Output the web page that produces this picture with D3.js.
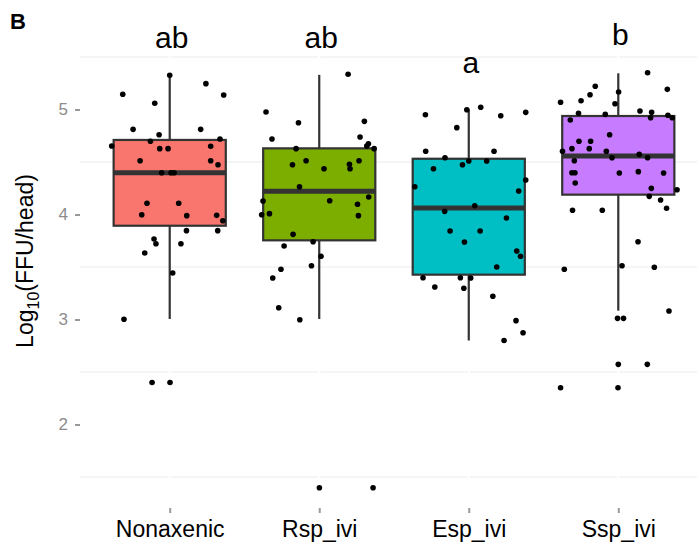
<!DOCTYPE html>
<html>
<head>
<meta charset="utf-8">
<script src="https://cdn.jsdelivr.net/npm/d3@7"></script>
<style>
  body { margin: 0; background: #fff; }
  svg { display: block; font-family: "Liberation Sans", Arial, sans-serif; }
</style>
</head>
<body>
<svg id="chart" width="697" height="542"></svg>
<script>
// data
const groups = ["Nonaxenic", "Rsp_ivi", "Esp_ivi", "Ssp_ivi"];
const colors = ["#F8766D", "#7CAE00", "#00BFC4", "#C77CFF"];
const letters = ["ab", "ab", "a", "b"];
const letterY = [5.586, 5.586, 5.348, 5.614];

// box stats: lower whisker, q1, median, q3, upper whisker
const whiskerLow  = [3.005, 3.005, 2.80, 3.084];
const q1          = [3.893, 3.754, 3.427, 4.189];
const median      = [4.398, 4.221, 4.062, 4.557];
const q3          = [4.710, 4.630, 4.531, 4.938];
const whiskerHigh = [5.326, 5.330, 5.000, 5.345];

const yTicks = [2, 3, 4, 5];
const yMinor = [1.5, 2.5, 3.5, 4.5, 5.5];

// points: [value, jitter in category units]
const ptsNonaxenic = [
  [5.326, 0], [5.246, 0.242], [5.145, -0.314], [5.138, 0.361], [5.059, -0.1],
  [4.811, -0.245], [4.811, 0.207], [4.76, -0.071], [4.697, -0.129], [4.719, 0.336],
  [4.652, -0.388], [4.627, -0.067], [4.627, -0.011], [4.65, 0.274], [4.512, -0.198],
  [4.512, 0.274], [4.474, 0.323], [4.398, -0.054], [4.398, 0.009], [4.398, 0.029],
  [4.107, -0.152], [4.107, 0.060], [3.998, -0.187], [3.989, 0.114], [3.992, 0.314],
  [3.941, 0.355], [3.846, 0.112], [3.846, 0.321], [3.767, -0.105], [3.722, -0.092],
  [3.722, 0.075], [3.633, -0.167], [3.443, 0.020], [3.002, -0.306], [2.40, -0.118],
  [2.40, 0.002]
];
const ptsRsp = [
  [5.335, 0.193], [4.976, -0.356], [4.874, -0.139], [4.887, 0.302], [4.719, -0.316],
  [4.738, 0.273], [4.674, 0.329], [4.652, 0.318], [4.627, 0.367], [4.627, -0.155],
  [4.512, -0.088], [4.474, -0.179], [4.436, 0.032], [4.478, 0.202], [4.436, 0.206],
  [4.512, 0.266], [4.265, -0.132], [4.167, 0.331], [4.129, -0.376], [4.131, 0.070],
  [4.097, 0.256], [3.998, -0.385], [4.008, -0.333], [3.989, 0.262], [3.811, -0.175],
  [3.741, -0.041], [3.70, -0.235], [3.602, 0.012], [3.512, -0.052], [3.478, -0.256],
  [3.395, -0.311], [3.112, -0.271], [2.998, -0.130], [1.398, 0.001], [1.398, 0.360]
];
const ptsEsp = [
  [5.021, 0.080], [4.998, -0.013], [4.973, 0.381], [4.95, -0.290], [4.941, 0.214],
  [4.827, -0.080], [4.602, -0.288], [4.602, 0.169], [4.541, -0.159], [4.51, 0],
  [4.51, 0.120], [4.474, -0.042], [4.436, -0.236], [4.329, 0.381], [4.265, -0.361],
  [4.224, 0.334], [4.084, 0.040], [4.03, -0.161], [3.967, 0.252], [3.843, -0.125],
  [3.843, 0.076], [3.738, -0.029], [3.652, 0.321], [3.602, 0.346], [3.50, 0.187],
  [3.398, -0.306], [3.398, -0.056], [3.395, 0.013], [3.31, -0.227], [3.297, -0.033],
  [3.221, 0.161], [2.989, 0.316], [2.874, 0.363], [2.80, 0.236]
];
const ptsSsp = [
  [5.35, 0.196], [5.221, -0.154], [5.192, 0.328], [5.167, 0.002], [5.141, -0.189],
  [5.084, -0.249], [5.069, -0.386], [5.055, -0.022], [4.986, 0.145], [4.973, 0.223],
  [4.964, -0.266], [4.954, -0.087], [4.945, 0.332], [4.922, 0.361], [4.922, 0.216],
  [4.90, -0.321], [4.76, -0.058], [4.697, -0.263], [4.697, -0.185], [4.627, -0.310],
  [4.627, -0.194], [4.602, -0.373], [4.602, -0.080], [4.573, 0.140], [4.541, -0.042],
  [4.541, 0.196], [4.512, -0.294], [4.398, -0.310], [4.398, -0.290], [4.395, 0.007],
  [4.408, 0.134], [4.395, 0.303], [4.30, -0.288], [4.249, 0.221], [4.236, 0.393],
  [4.173, 0.207], [4.138, 0.283], [4.059, 0.323], [4.04, -0.306], [4.04, -0.107],
  [3.741, 0.132], [3.512, 0.025], [3.497, 0.241], [3.478, -0.361], [3.081, 0.339],
  [3.011, -0.005], [3.011, 0.035], [2.573, 0], [2.573, 0.194], [2.35, -0.386],
  [2.35, -0.002]
];
const points = [ptsNonaxenic, ptsRsp, ptsEsp, ptsSsp];

const svg = d3.select("#chart");
const panel = { left: 80, right: 708, top: 50.7, bottom: 508 };

const x = d3.scalePoint().domain(groups).range([panel.left, panel.right]).padding(0.6);
const step = x.step();
const y = d3.scaleLinear().domain([1.18, 5.56]).range([510.6, 50.7]);
const boxW = step * 0.75;

// grid (minor lines grey, major lines white over them)
svg.append("g").selectAll("line").data(yMinor).join("line")
  .attr("x1", panel.left).attr("x2", panel.right)
  .attr("y1", d => y(d)).attr("y2", d => y(d))
  .attr("stroke", "#ebebeb").attr("stroke-width", 1);
svg.append("g").selectAll("line").data(groups).join("line")
  .attr("x1", d => x(d)).attr("x2", d => x(d))
  .attr("y1", panel.top).attr("y2", panel.bottom)
  .attr("stroke", "#fff").attr("stroke-width", 2);

// axes
const yAxis = svg.append("g")
  .attr("transform", `translate(${panel.left},0)`)
  .call(d3.axisLeft(y).tickValues(yTicks).tickSize(5).tickPadding(7).tickFormat(d3.format("d")));
yAxis.select(".domain").remove();
yAxis.selectAll("line").attr("stroke", "#999").attr("stroke-width", 2);
yAxis.selectAll("text").attr("fill", "#8c8c8c").style("font-size", "17px");

const xAxis = svg.append("g")
  .attr("transform", `translate(0,${panel.bottom})`)
  .call(d3.axisBottom(x).tickSize(5).tickPadding(7.5));
xAxis.select(".domain").remove();
xAxis.selectAll("line").attr("stroke", "#999").attr("stroke-width", 2);
xAxis.selectAll("text").attr("fill", "#000").style("font-size", "23px");

// boxes
const box = svg.append("g").selectAll("g").data(groups).join("g");
box.append("line")
  .attr("x1", d => x(d)).attr("x2", d => x(d))
  .attr("y1", (d, i) => y(whiskerLow[i])).attr("y2", (d, i) => y(whiskerHigh[i]))
  .attr("stroke", "#333").attr("stroke-width", 2.2);
box.append("rect")
  .attr("x", d => x(d) - boxW / 2).attr("width", boxW)
  .attr("y", (d, i) => y(q3[i]))
  .attr("height", (d, i) => y(q1[i]) - y(q3[i]))
  .attr("fill", (d, i) => colors[i])
  .attr("stroke", "#333").attr("stroke-width", 2.2);
box.append("line")
  .attr("x1", d => x(d) - boxW / 2).attr("x2", d => x(d) + boxW / 2)
  .attr("y1", (d, i) => y(median[i])).attr("y2", (d, i) => y(median[i]))
  .attr("stroke", "#333").attr("stroke-width", 5);

// jittered points
groups.forEach((g, i) => {
  svg.append("g").selectAll("circle").data(points[i]).join("circle")
    .attr("cx", d => x(g) + d[1] * step)
    .attr("cy", d => y(d[0]))
    .attr("r", 2.8)
    .attr("fill", "#000");
});

// significance letters
svg.append("g").selectAll("text").data(groups).join("text")
  .attr("x", d => x(d) + 2)
  .attr("y", (d, i) => y(letterY[i]))
  .attr("text-anchor", "middle")
  .style("font-size", "30px")
  .text((d, i) => letters[i]);

// y title
const yt = svg.append("text")
  .attr("transform", `translate(33,261) rotate(-90)`)
  .attr("text-anchor", "middle")
  .style("font-size", "23px");
yt.append("tspan").text("Log");
yt.append("tspan").attr("dy", 6).style("font-size", "16px").text("10");
yt.append("tspan").attr("dy", -6).text("(FFU/head)");

// panel tag
svg.append("text").attr("x", 10).attr("y", 29)
  .style("font-size", "22px").style("font-weight", "bold").text("B");
</script>
</body>
</html>
